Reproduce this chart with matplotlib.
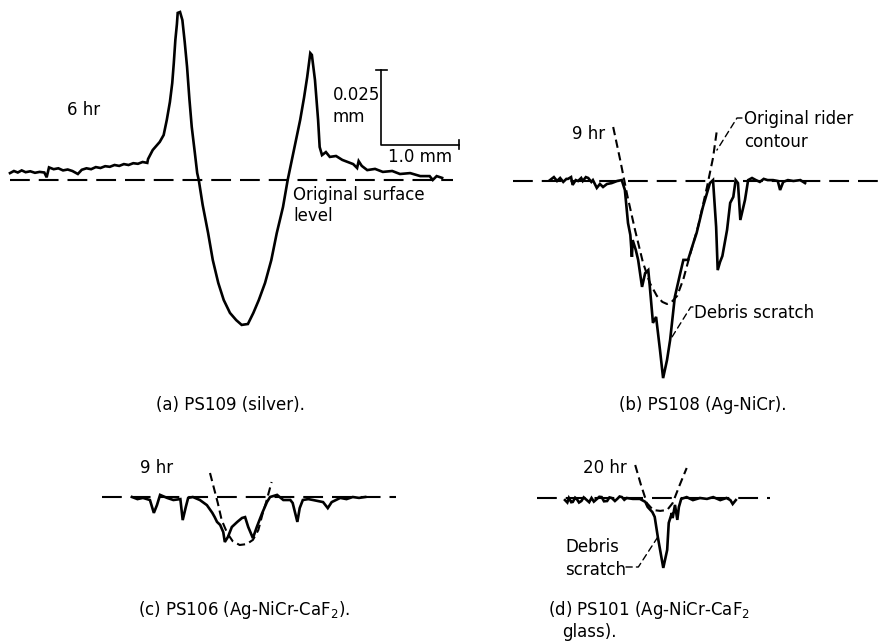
import matplotlib
matplotlib.use("Agg")
import matplotlib.pyplot as plt

plt.rcParams['font.family'] = ['DejaVu Sans']

# 표면 프로파일 데이터: x = 트랙 방향 거리 (mm), z = 원래 표면 기준 높이 (um)
# (a) PS109 (silver), 6 hr
a_x = [0.00, 0.05, 0.10, 0.15, 0.20, 0.26, 0.32, 0.38, 0.44, 0.47, 0.50, 0.56, 0.62, 0.68, 0.74, 0.80,
       0.87, 0.92, 0.98, 1.04, 1.10, 1.16, 1.22, 1.28, 1.34, 1.40, 1.46, 1.52, 1.58, 1.64, 1.70, 1.76,
       1.77, 1.83, 1.88, 1.92, 1.97, 2.01, 2.05, 2.08, 2.10, 2.12, 2.14, 2.15, 2.18, 2.21, 2.24, 2.27,
       2.30, 2.33, 2.37, 2.40, 2.42,
       2.47, 2.54, 2.60, 2.67, 2.74, 2.82, 2.90, 2.97, 3.05, 3.12, 3.19, 3.27, 3.35, 3.42, 3.50, 3.56,
       3.64, 3.72, 3.77, 3.81, 3.85, 3.87, 3.91, 3.95, 3.97, 4.00, 4.05, 4.10, 4.18, 4.26, 4.33, 4.40,
       4.45, 4.47, 4.51, 4.58, 4.68, 4.78, 4.90, 5.00, 5.13, 5.26, 5.38, 5.42, 5.47, 5.54]
a_z = [2.3, 3.0, 2.5, 3.2, 2.6, 2.9, 2.4, 2.7, 2.5, 0.9, 4.2, 3.6, 3.9, 3.2, 3.5, 3.0,
       2.0, 3.4, 3.9, 3.6, 4.3, 4.0, 4.6, 4.4, 5.0, 4.7, 5.3, 5.0, 5.6, 5.4, 6.0, 5.7,
       7.0, 10.0, 11.5, 12.7, 15.0, 20.0, 26.0, 32.3, 39.0, 46.7, 52.0, 55.7, 56.0, 53.3, 46.0, 37.7,
       27.0, 17.7, 9.0, 2.3, 0.0,
       -8.3, -17.7, -26.7, -34.3, -40.0, -44.3, -46.7, -48.3, -48.0, -44.3, -40.0, -34.3, -26.7, -17.7, -9.0, 0.0,
       10.0, 20.0, 27.5, 34.3, 42.3, 41.7, 33.3, 20.0, 11.0, 8.3, 9.3, 7.7, 8.0, 6.7, 6.0, 5.3,
       4.0, 6.3, 4.7, 3.3, 3.7, 2.7, 3.0, 2.0, 2.3, 1.3, 1.3, 0.0, 1.3, 0.7]
a_base = [0.0, 5.68]

# (b) PS108 (Ag-NiCr), 9 hr
b_x = [0.00, 0.05, 0.09, 0.13, 0.17, 0.21, 0.23, 0.27, 0.29, 0.33, 0.36, 0.40, 0.42, 0.46, 0.49, 0.53,
       0.55, 0.60, 0.64, 0.68, 0.73, 0.79, 0.86, 0.92,
       0.96, 1.00, 1.03, 1.05, 1.06, 1.10, 1.13, 1.18, 1.22, 1.26, 1.28, 1.32, 1.36, 1.41, 1.45,
       1.50, 1.54, 1.60, 1.67, 1.71, 1.77, 1.83, 1.88, 1.96, 2.05, 2.09,
       2.13, 2.15, 2.18, 2.21, 2.27, 2.31, 2.35, 2.38, 2.41, 2.44, 2.50, 2.54,
       2.59, 2.64, 2.69, 2.74, 2.79, 2.86, 2.92, 2.95, 2.99, 3.05, 3.12, 3.21, 3.27]
b_z = [0.3, 1.3, 0.0, 1.0, -0.3, 0.7, 0.7, 1.3, -1.3, 0.3, 0.0, 1.0, 0.0, 1.3, 1.0, -0.3,
       0.3, -2.3, -1.0, -2.0, -1.0, -0.7, 0.0, 0.3,
       -3.0, -14.0, -18.0, -25.3, -19.7, -23.0, -26.3, -35.3, -30.7, -29.7, -35.3, -47.3, -45.3, -56.3, -65.7,
       -59.7, -53.0, -38.7, -30.7, -26.3, -26.3, -21.3, -17.3, -8.7, -0.7, 0.3,
       -15.3, -29.7, -27.0, -25.0, -16.3, -7.3, -5.3, 0.3, -0.7, -13.0, -6.3, 0.3,
       1.0, 0.3, -0.3, 0.7, 0.3, 0.3, 0.0, -3.0, -0.3, 0.3, 0.0, 0.3, -0.7]
b_rider_x = [0.81, 0.90, 0.99, 1.09, 1.19, 1.28, 1.37, 1.44, 1.50, 1.56, 1.63, 1.71, 1.79, 1.90, 2.01, 2.09, 2.14]
b_rider_z = [18.0, 7.0, -4.7, -16.3, -27.0, -34.0, -38.3, -40.3, -41.0, -40.3, -38.3, -32.7, -25.0, -15.0, -2.3, 7.7, 17.0]
b_base = [-0.47, 4.29]

# (c) PS106 (Ag-NiCr-CaF2), 9 hr
c_x = [0.00, 0.07, 0.14, 0.23, 0.28, 0.32, 0.36, 0.45, 0.53, 0.62, 0.65, 0.69, 0.72, 0.78, 0.87, 0.96,
       1.03, 1.06, 1.09, 1.13, 1.17, 1.19, 1.23, 1.28, 1.35, 1.41, 1.45, 1.49, 1.55, 1.60, 1.67, 1.73,
       1.77, 1.86, 1.94, 2.03, 2.06, 2.12, 2.15, 2.19, 2.26, 2.32, 2.45, 2.51, 2.56, 2.67, 2.75, 2.83,
       2.91, 2.99]
c_z = [0.0, -0.7, -0.3, -1.0, -5.3, -2.7, 0.7, -0.3, -1.0, -0.7, -7.7, -3.3, -0.3, 0.0, -1.0, -2.7,
       -5.3, -6.7, -8.3, -9.3, -11.7, -15.0, -13.3, -10.0, -8.3, -7.0, -6.7, -10.0, -13.7, -10.0, -5.3, -1.7,
       0.0, 0.7, -1.0, -1.0, -2.0, -8.3, -3.7, -1.0, -0.7, -1.0, -1.7, -3.7, -1.7, -0.3, -0.7, 0.0,
       -0.3, 0.0]
c_rider_x = [1.00, 1.05, 1.10, 1.15, 1.22, 1.29, 1.38, 1.47, 1.55, 1.62, 1.67, 1.72, 1.79]
c_rider_z = [8.0, 3.0, -2.0, -7.7, -12.0, -14.7, -16.0, -15.7, -14.3, -11.0, -6.0, -1.7, 5.0]
c_base = [-0.38, 3.38]

# (d) PS101 (Ag-NiCr-CaF2 glass), 20 hr
d_x = [0.00, 0.03, 0.05, 0.08, 0.10, 0.13, 0.15, 0.18, 0.21, 0.24, 0.28, 0.31, 0.34, 0.37, 0.41, 0.44,
       0.47, 0.50, 0.54, 0.57, 0.60, 0.64, 0.67, 0.70, 0.73, 0.76, 0.79, 0.87, 0.96,
       1.03, 1.06, 1.12, 1.15, 1.19, 1.26, 1.31, 1.33, 1.37, 1.38, 1.41, 1.44, 1.46, 1.49, 1.56, 1.64,
       1.73, 1.82, 1.90, 1.99, 2.07, 2.12, 2.15, 2.19]
d_z = [-0.7, -1.5, 0.0, -1.4, -1.3, 0.1, -0.3, -1.5, -1.0, 0.2, -0.7, -1.4, 0.0, -1.2, -0.3, 0.4,
       0.3, -1.1, -1.0, 0.2, 0.0, -1.0, -0.3, 0.5, 0.3, -0.6, 0.0, -0.3, -0.3,
       -1.3, -3.0, -4.7, -6.3, -13.0, -23.3, -17.3, -8.3, -5.0, -6.7, -2.3, -7.3, -3.0, -0.3, 0.3, -0.7,
       0.0, -0.3, 0.3, -0.7, 0.0, -0.7, -2.0, -0.7]
d_rider_x = [0.90, 0.97, 1.05, 1.13, 1.22, 1.31, 1.38, 1.47, 1.56]
d_rider_z = [11.0, 4.7, -1.7, -4.0, -4.3, -4.0, -1.7, 4.3, 10.0]
d_base = [-0.36, 2.63]

# 그림 설정 (픽셀 단위 레이아웃)
W, H = 885, 642
PX_MM = 78.0   # 가로: px / mm
PX_UM = 3.0    # 세로: px / um
FS = 12

fig = plt.figure(figsize=(W / 100, H / 100), dpi=100)

def panel(x0, y0, box):
    # box = (left, top, right, bottom) px, (x0, y0) = 프로파일 원점 px
    l, t, r, b = box
    ax = fig.add_axes([l / W, 1 - b / H, (r - l) / W, (b - t) / H])
    ax.set_xlim((l - x0) / PX_MM, (r - x0) / PX_MM)
    ax.set_ylim((y0 - b) / PX_UM, (y0 - t) / PX_UM)
    ax.axis('off')
    return ax

def label(px, py, s, ha='left'):
    fig.text(px / W, 1 - py / H, s, fontsize=FS, ha=ha, va='center')

def leader(ax, pt, start, ang):
    ax.annotate('', xy=pt, xycoords='data', xytext=(start[0], H - start[1]),
                textcoords='figure pixels',
                arrowprops=dict(arrowstyle='-', lw=1.0, linestyle=(0, (4.5, 3)),
                                shrinkA=0, shrinkB=0,
                                connectionstyle='angle,angleA=0,angleB=%d,rad=0' % ang))

def draw(ax, x, z, base, rx=None, rz=None):
    ax.plot(base, [0, 0], color='black', lw=1.5, dashes=(9.5, 4.3), clip_on=False)
    if rx is not None:
        ax.plot(rx, rz, color='black', lw=1.5, dashes=(4.0, 2.2), clip_on=False)
    ax.plot(x, z, color='black', lw=1.9, solid_joinstyle='miter', clip_on=False)

# (a)
ax_a = panel(10, 180, (0, 0, 460, 345))
draw(ax_a, a_x, a_z, a_base)
# 스케일 바: 0.025 mm (세로), 1.0 mm (가로)
sb_x, sb_top = 4.76, 36.7
ax_a.plot([sb_x, sb_x, sb_x + 1.0], [sb_top, sb_top - 25, sb_top - 25], color='black', lw=1.2)
ax_a.plot([sb_x - 0.07, sb_x + 0.07], [sb_top, sb_top], color='black', lw=1.2)
ax_a.plot([sb_x + 1.0, sb_x + 1.0], [sb_top - 26.5, sb_top - 23.5], color='black', lw=1.2)
label(67, 110, '6 hr')
label(333, 95, '0.025')
label(333, 117, 'mm')
label(388, 157, '1.0 mm')
label(293, 195, 'Original surface')
label(293, 216, 'level')
label(230, 405, '(a) PS109 (silver).', ha='center')

# (b)
ax_b = panel(550, 181, (460, 0, 885, 400))
draw(ax_b, b_x, b_z, b_base, b_rider_x, b_rider_z)
label(572, 134, '9 hr')
label(744, 119, 'Original rider')
label(744, 142, 'contour')
leader(ax_b, (2.14, 10.3), (742, 118), 58)
label(694, 313, 'Debris scratch')
leader(ax_b, (1.54, -53.0), (693, 307), 58)
label(703, 405, '(b) PS108 (Ag-NiCr).', ha='center')

# (c)
ax_c = panel(132, 497, (0, 430, 440, 642))
draw(ax_c, c_x, c_z, c_base, c_rider_x, c_rider_z)
label(140, 468, '9 hr')
label(138, 610, r'(c) PS106 (Ag-NiCr-CaF$_2$).')

# (d)
ax_d = panel(565, 498, (440, 430, 885, 642))
draw(ax_d, d_x, d_z, d_base, d_rider_x, d_rider_z)
label(583, 468, '20 hr')
label(565, 547, 'Debris')
label(565, 570, 'scratch')
leader(ax_d, (1.19, -13.0), (626, 567), 57)
label(548, 610, r'(d) PS101 (Ag-NiCr-CaF$_2$')
label(562, 632, 'glass).')

plt.savefig('out.png', dpi=100)
